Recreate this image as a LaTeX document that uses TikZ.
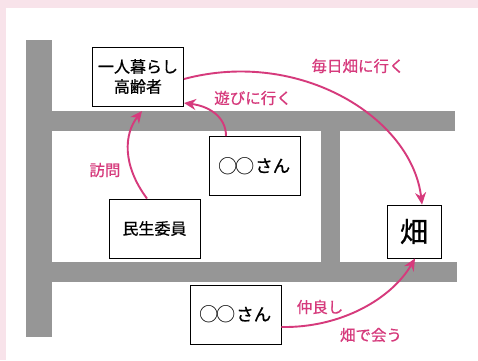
\documentclass[tikz,border=0pt]{standalone}
\usepackage{fontspec}
\usepackage{graphicx}
\setmainfont{Noto Sans CJK JP}[BoldFont={Noto Sans CJK JP}, BoldFeatures={FakeBold=0.7}]
\usetikzlibrary{arrows.meta}
\definecolor{bgpink}{HTML}{F8E3EA}
\definecolor{roadgray}{HTML}{969696}
\definecolor{arrowpink}{HTML}{D63A7C}
\newcommand{\someone}{\raisebox{-1pt}{\scalebox{1.2}{\mdseries ○\kern-2.5pt○}}\kern1pt{\fontsize{17.5}{20}\selectfont さん}}

\begin{document}
\begin{tikzpicture}[x=1pt, y=-1pt,
  placenode/.style={rectangle, draw=black, line width=0.9pt, fill=white, inner sep=0pt,
    minimum width=91pt, minimum height=59pt, align=center, font=\fontsize{16}{20}\selectfont\bfseries},
  fieldnode/.style={placenode, minimum width=54pt, minimum height=53pt, font=\fontsize{28}{30}\selectfont\bfseries},
  pinklabel/.style={text=arrowpink, inner sep=0pt, font=\fontsize{15.5}{18}\selectfont\bfseries},
  goesto/.style={draw=arrowpink, line width=1.9pt, -{Stealth[length=12pt, width=11pt]}},
  road/.style={fill=roadgray},
  ]

\useasboundingbox (0,0) rectangle (478,360);
\fill[bgpink] (0,0) rectangle (478,360);
\fill[white] (6,8) rectangle (478,360);

% roads
\fill[road] (26,40) rectangle (52,337);
\fill[road] (52,111) rectangle (455,131);
\fill[road] (321,131) rectangle (340,262);
\fill[road] (52,262) rectangle (457,282);

\node[placenode] (elder) at (138,76.5) {一人暮らし\\高齢者};
\node[placenode] (friendA) at (254.5,166) {\someone};
\node[placenode] (minsei) at (154.5,228.5) {民生委員};
\node[fieldnode] (field) at (414,231.5) {畑};
\node[placenode] (friendB) at (235.5,314.5) {\someone};

\draw[goesto] (elder.east |- 0,79) .. controls (300,48) and (412,118) .. (field.north -| 422,0);
\draw[goesto] (friendA.north -| 226,0) .. controls (226,116) and (208,106) .. (elder.east |- 0,103);
\draw[goesto] (minsei.north -| 147,0) .. controls (122,165) and (124,134) .. (142,111);
\draw[goesto] (friendB.east |- 0,327) .. controls (342,328) and (392,298) .. (field.south -| 415,0);

\node[pinklabel] (daily) at (358,66) {毎日畑に行く};
\node[pinklabel] (play) at (253,98) {遊びに行く};
\node[pinklabel] (visit) at (105,170) {訪問};
\node[pinklabel] (close) at (320,307) {仲良し};
\node[pinklabel] (meet) at (371,335) {畑で会う};

\end{tikzpicture}
\end{document}
